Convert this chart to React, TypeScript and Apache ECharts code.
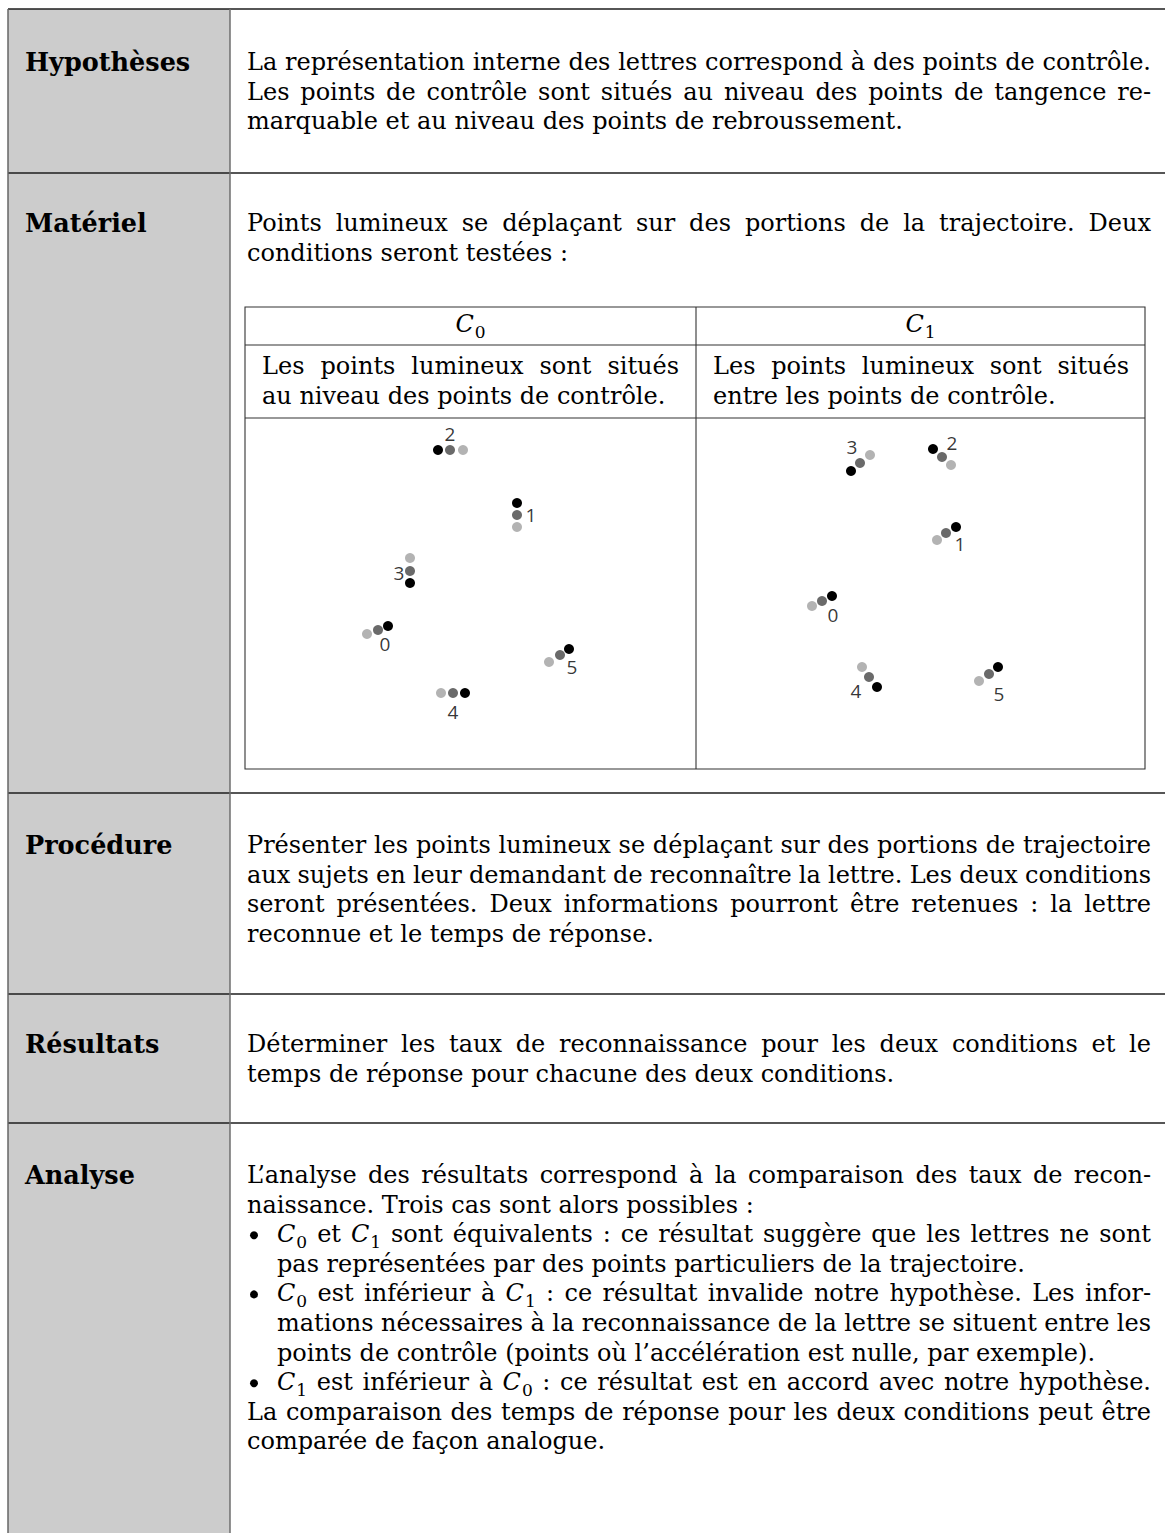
import React, { useEffect, useRef } from "react";
import * as echarts from "echarts";

// ---------------- data ----------------
const ROW_LABELS = ["Hypothèses", "Matériel", "Procédure", "Résultats", "Analyse"];

const HYPO_LINES = [
  "La représentation interne des lettres correspond à des points de contrôle.",
  "Les points de contrôle sont situés au niveau des points de tangence re-",
  "marquable et au niveau des points de rebroussement.",
];
const MATERIEL_LINES = [
  "Points lumineux se déplaçant sur des portions de la trajectoire. Deux",
  "conditions seront testées :",
];
const PROC_LINES = [
  "Présenter les points lumineux se déplaçant sur des portions de trajectoire",
  "aux sujets en leur demandant de reconnaître la lettre. Les deux conditions",
  "seront présentées. Deux informations pourront être retenues : la lettre",
  "reconnue et le temps de réponse.",
];
const RES_LINES = [
  "Déterminer les taux de reconnaissance pour les deux conditions et le",
  "temps de réponse pour chacune des deux conditions.",
];
const ANALYSE_LINES = [
  "L’analyse des résultats correspond à la comparaison des taux de recon-",
  "naissance. Trois cas sont alors possibles :",
  "C_0 et C_1 sont équivalents : ce résultat suggère que les lettres ne sont",
  "pas représentées par des points particuliers de la trajectoire.",
  "C_0 est inférieur à C_1 : ce résultat invalide notre hypothèse. Les infor-",
  "mations nécessaires à la reconnaissance de la lettre se situent entre les",
  "points de contrôle (points où l’accélération est nulle, par exemple).",
  "C_1 est inférieur à C_0 : ce résultat est en accord avec notre hypothèse.",
  "La comparaison des temps de réponse pour les deux conditions peut être",
  "comparée de façon analogue.",
];
// p = paragraph line, b = bullet line, i = item continuation
const ANALYSE_KIND = ["p", "p", "b", "i", "b", "i", "i", "b", "p", "p"];
const ANALYSE_JUSTIFY = [true, false, true, false, true, true, false, true, true, false];

const COND_HEADERS = ["C_0", "C_1"];
const C0_DESC = ["Les points lumineux sont situés", "au niveau des points de contrôle."];
const C1_DESC = ["Les points lumineux sont situés", "entre les points de contrôle."];

const POINT_IDS = ["0", "1", "2", "3", "4", "5"];

// Condition C0 : lights at the control points (x, y in stimulus units, y downward)
const C0_DARK = [[14.3, 20.8], [27.2, 8.5], [19.3, 3.2], [16.5, 16.5], [22.0, 27.5], [32.4, 23.1]];
const C0_MID = [[13.3, 21.2], [27.2, 9.7], [20.5, 3.2], [16.5, 15.3], [20.8, 27.5], [31.5, 23.7]];
const C0_LIGHT = [[12.2, 21.6], [27.2, 10.9], [21.8, 3.2], [16.5, 14.0], [19.6, 27.5], [30.4, 24.4]];
const C0_LABELS = [[14.0, 22.6], [28.6, 9.7], [20.5, 1.6], [15.4, 15.5], [20.8, 29.4], [32.7, 24.9]];

// Condition C1 : lights between the control points
const C1_DARK = [[13.6, 17.8], [26.0, 10.9], [23.7, 3.1], [15.5, 5.3], [18.1, 26.9], [30.2, 24.9]];
const C1_MID = [[12.6, 18.3], [25.0, 11.5], [24.6, 3.9], [16.4, 4.5], [17.3, 25.9], [29.3, 25.6]];
const C1_LIGHT = [[11.6, 18.8], [24.1, 12.2], [25.5, 4.7], [17.4, 3.7], [16.6, 24.9], [28.3, 26.3]];
const C1_LABELS = [[13.7, 19.7], [26.4, 12.6], [25.6, 2.5], [15.6, 2.9], [16.0, 27.3], [30.3, 27.6]];

// ---------------- layout ----------------
const W = 1165;
const H = 1533;
const SERIF = "DejaVu Serif, serif";
const SANS = "Open Sans, Noto Sans, sans-serif";
const FS = 24;
const FS_LABEL = 25.5;
const LH = 29.6;
const TEXT_X0 = 247;
const TEXT_X1 = 1151;
const ROW_TOPS = [9, 173, 793, 994, 1123];
const ROW_FIRST_Y = [62, 223, 845, 1044, 1175];

const COLORS = { dark: "#000000", mid: "#6a6a6a", light: "#b3b3b3" };

const canvas = document.createElement("canvas");
const ctx = canvas.getContext("2d")!;

function fontStr(size: number, style = "", weight = "") {
  return `${style ? style + " " : ""}${weight ? weight + " " : ""}${size}px ${SERIF}`;
}
function mw(text: string, font: string) {
  ctx.font = font;
  return ctx.measureText(text).width;
}
function txt(text: string, x: number, y: number, size: number, style = "normal", weight = "normal") {
  return {
    type: "text",
    x,
    y,
    silent: true,
    style: {
      text,
      fontSize: size,
      fontFamily: SERIF,
      fontStyle: style,
      fontWeight: weight,
      fill: "#000",
      textAlign: "left",
      textVerticalAlign: "middle",
    },
  };
}
const MATH = /^C_(\d)$/;
const SUB = 0.7;
function tokenWidth(tok: string, size: number, weight = "") {
  const m = MATH.exec(tok);
  if (m) return mw("C", fontStr(size, "italic")) + 1 + mw(m[1], fontStr(Math.round(size * SUB)));
  return mw(tok, fontStr(size, "", weight));
}
function pushToken(els: any[], tok: string, x: number, y: number, size: number, weight = "normal") {
  const m = MATH.exec(tok);
  if (m) {
    const wc = mw("C", fontStr(size, "italic"));
    els.push(txt("C", x, y, size, "italic"));
    els.push(txt(m[1], x + wc + 1, y + size * 0.33, Math.round(size * SUB)));
  } else {
    els.push(txt(tok, x, y, size, "normal", weight));
  }
}
function layoutLine(els: any[], text: string, x0: number, x1: number, y: number, justify: boolean, size = FS) {
  const toks = text.split(" ");
  const ws = toks.map((t) => tokenWidth(t, size));
  const sum = ws.reduce((a, b) => a + b, 0);
  let gap = mw(" ", fontStr(size));
  if (justify && toks.length > 1) gap = (x1 - x0 - sum) / (toks.length - 1);
  let x = x0;
  toks.forEach((t, i) => {
    pushToken(els, t, x, y, size);
    x += ws[i] + gap;
  });
}

function buildOption() {
  const els: any[] = [];
  // gray label column
  els.push({ type: "rect", silent: true, z: -10, shape: { x: 8, y: 9, width: 222, height: H - 9 }, style: { fill: "#cccccc" } });
  // horizontal rules
  ROW_TOPS.forEach((y) => {
    els.push({ type: "line", silent: true, shape: { x1: 8, y1: y, x2: W, y2: y }, style: { stroke: "#1e1e1e", lineWidth: 1.3 } });
  });
  // vertical rules
  els.push({ type: "line", silent: true, shape: { x1: 8, y1: 9, x2: 8, y2: H }, style: { stroke: "#666", lineWidth: 1.5 } });
  els.push({ type: "line", silent: true, shape: { x1: 230, y1: 9, x2: 230, y2: H }, style: { stroke: "#6e6e6e", lineWidth: 1.5 } });

  // row labels
  ROW_LABELS.forEach((lab, i) => {
    els.push(txt(lab, 25, ROW_FIRST_Y[i], FS_LABEL, "normal", "bold"));
  });

  // paragraphs
  HYPO_LINES.forEach((l, i) => layoutLine(els, l, TEXT_X0, TEXT_X1, ROW_FIRST_Y[0] + i * LH, i < HYPO_LINES.length - 1));
  MATERIEL_LINES.forEach((l, i) => layoutLine(els, l, TEXT_X0, TEXT_X1, ROW_FIRST_Y[1] + i * LH, i < MATERIEL_LINES.length - 1));
  PROC_LINES.forEach((l, i) => layoutLine(els, l, TEXT_X0, TEXT_X1, ROW_FIRST_Y[2] + i * LH, i < PROC_LINES.length - 1));
  RES_LINES.forEach((l, i) => layoutLine(els, l, TEXT_X0, TEXT_X1, ROW_FIRST_Y[3] + i * LH, i < RES_LINES.length - 1));
  ANALYSE_LINES.forEach((l, i) => {
    const y = ROW_FIRST_Y[4] + i * LH;
    const kind = ANALYSE_KIND[i];
    let x0 = TEXT_X0;
    if (kind === "b") {
      els.push({ type: "circle", silent: true, shape: { cx: 254, cy: y + 1, r: 4 }, style: { fill: "#000" } });
      x0 = 277;
    } else if (kind === "i") {
      x0 = 277;
    }
    layoutLine(els, l, x0, TEXT_X1, y, ANALYSE_JUSTIFY[i]);
  });

  // inner table
  const IT = { x0: 245, x1: 1145, xm: 696, y0: 307, y1: 345, y2: 418, y3: 769 };
  els.push({ type: "rect", silent: true, shape: { x: IT.x0, y: IT.y0, width: IT.x1 - IT.x0, height: IT.y3 - IT.y0 }, style: { fill: "none", stroke: "#333", lineWidth: 1.1 } });
  [IT.y1, IT.y2].forEach((y) => els.push({ type: "line", silent: true, shape: { x1: IT.x0, y1: y, x2: IT.x1, y2: y }, style: { stroke: "#333", lineWidth: 1.1 } }));
  els.push({ type: "line", silent: true, shape: { x1: IT.xm, y1: IT.y0, x2: IT.xm, y2: IT.y3 }, style: { stroke: "#333", lineWidth: 1.1 } });

  // headers
  const centers = [(IT.x0 + IT.xm) / 2, (IT.xm + IT.x1) / 2];
  COND_HEADERS.forEach((h, i) => {
    const w = tokenWidth(h, FS);
    pushToken(els, h, centers[i] - w / 2, 324, FS);
  });
  const descs = [C0_DESC, C1_DESC];
  const cellX = [[262, 679], [713, 1129]];
  descs.forEach((d, c) => d.forEach((l, i) => layoutLine(els, l, cellX[c][0], cellX[c][1], 366 + i * LH, i === 0)));

  const panels = [
    { dark: C0_DARK, mid: C0_MID, light: C0_LIGHT, labels: C0_LABELS },
    { dark: C1_DARK, mid: C1_MID, light: C1_LIGHT, labels: C1_LABELS },
  ];
  const grids = [
    { left: 245, top: 418, width: 450, height: 351 },
    { left: 696, top: 418, width: 450, height: 351 },
  ];
  const xAxis = grids.map((_, i) => ({ type: "value", gridIndex: i, min: 0, max: 45, show: false }));
  const yAxis = grids.map((_, i) => ({ type: "value", gridIndex: i, min: 0, max: 35.1, inverse: true, show: false }));
  const series: any[] = [];
  panels.forEach((p, i) => {
    (["light", "mid", "dark"] as const).forEach((k) => {
      series.push({
        type: "scatter",
        xAxisIndex: i,
        yAxisIndex: i,
        symbol: "circle",
        symbolSize: 10,
        itemStyle: { color: COLORS[k], opacity: 1 },
        data: (p as any)[k],
        silent: true,
      });
    });
    series.push({
      type: "scatter",
      xAxisIndex: i,
      yAxisIndex: i,
      symbolSize: 1,
      itemStyle: { color: "rgba(0,0,0,0)" },
      label: {
        show: true,
        position: "inside",
        fontFamily: SANS,
        fontSize: 19,
        color: "#000",
        formatter: (q: any) => POINT_IDS[q.dataIndex],
      },
      data: p.labels,
      silent: true,
    });
  });

  return {
    animation: false,
    backgroundColor: "#ffffff",
    grid: grids.map((g) => ({ ...g, containLabel: false })),
    xAxis,
    yAxis,
    series,
    graphic: { elements: els },
  };
}

export default function App() {
  const ref = useRef<HTMLDivElement>(null);
  useEffect(() => {
    const chart = echarts.init(ref.current!, null, { renderer: "svg" });
    chart.setOption(buildOption() as any);
    return () => chart.dispose();
  }, []);
  return (
    <div
      ref={ref}
      style={{ position: "absolute", left: 0, top: 0, width: W, height: H, background: "#fff" }}
    />
  );
}
